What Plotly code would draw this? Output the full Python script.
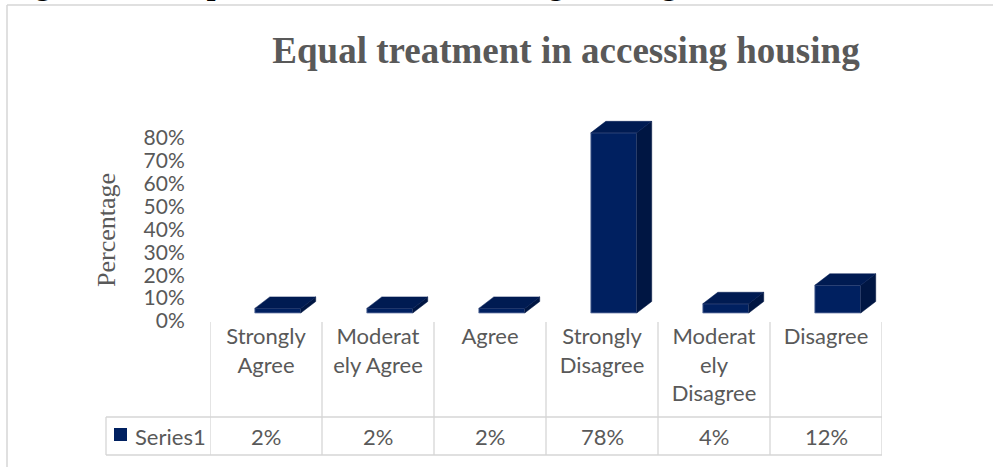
import plotly.graph_objects as go

# ---------------- data ----------------
categories = ["Strongly Agree", "Moderately Agree", "Agree",
              "Strongly Disagree", "Moderately Disagree", "Disagree"]
category_labels = ["Strongly<br>Agree", "Moderat<br>ely Agree", "Agree",
                   "Strongly<br>Disagree", "Moderat<br>ely<br>Disagree", "Disagree"]
series_name = "Series1"
values = [2, 2, 2, 78, 4, 12]          # percent
y_ticks = [0, 10, 20, 30, 40, 50, 60, 70, 80]
y_tick_labels = ["0%", "10%", "20%", "30%", "40%", "50%", "60%", "70%", "80%"]
title_text = "Equal treatment in accessing housing"
caption_text = "Figure 4.10: Equal treatment in accessing housing"
y_title = "Percentage"

# ---------------- layout geometry (pixels) ----------------
W, H = 993, 467
PL, PR = 210, 882      # plot area left/right
PT, PB = 110, 321      # plot area top/bottom


def px_x(p):
    return (p - PL) / (PR - PL)


def px_y(p):
    return (PB - p) / (PB - PT)


# visible axis: 0% at y=321, 80% at y=138
y1_scale = (321 - 138) / 80.0
y1_range = [0, (PB - PT) / y1_scale]
# bar axis (front face of 3D columns): 0 at y=313, 2.31 px per %
y2_scale = 2.31
y2_range = [-(PB - 313) / y2_scale, (313 - PT) / y2_scale]

unit_px = (PR - PL) / len(categories)
bar_offset = -0.1
bar_width = 0.41
dx = 15 / unit_px
dy = 11.5 / y2_scale

FRONT = "#002060"
TOP = "#001b52"
SIDE = "#001643"
GRAY = "#595959"
LINE = "#d6d6d6"

fig = go.Figure()

# empty trace so the percentage axis is registered
fig.add_trace(go.Scatter(x=[None], y=[None], yaxis="y", mode="lines",
                         hoverinfo="skip", showlegend=False))

# side and top faces of 3D columns
side_x, side_y, top_x, top_y = [], [], [], []
for i, v in enumerate(values):
    xl = i + bar_offset
    xr = xl + bar_width
    side_x += [xr, xr + dx, xr + dx, xr, xr, None]
    side_y += [0, dy, v + dy, v, 0, None]
    top_x += [xl, xl + dx, xr + dx, xr, xl, None]
    top_y += [v, v + dy, v + dy, v, v, None]

fig.add_trace(go.Scatter(x=side_x, y=side_y, yaxis="y2", mode="lines",
                         fill="toself", fillcolor=SIDE,
                         line=dict(color=SIDE, width=0.5),
                         hoverinfo="skip", showlegend=False))
fig.add_trace(go.Scatter(x=top_x, y=top_y, yaxis="y2", mode="lines",
                         fill="toself", fillcolor=TOP,
                         line=dict(color=TOP, width=0.5),
                         hoverinfo="skip", showlegend=False))
fig.add_trace(go.Bar(x=list(range(len(values))), y=values, yaxis="y2",
                     width=bar_width, offset=bar_offset,
                     marker=dict(color=FRONT, line=dict(color="#6f7fa8", width=0.8)),
                     name=series_name, showlegend=False,
                     hovertemplate="%{y}%<extra></extra>"))

shapes = []
# chart outer border (left and top)
shapes.append(dict(type="line", xref="paper", yref="paper",
                   x0=px_x(7), x1=px_x(W + 5), y0=px_y(5), y1=px_y(5),
                   line=dict(color=LINE, width=1.5)))
shapes.append(dict(type="line", xref="paper", yref="paper",
                   x0=px_x(7), x1=px_x(7), y0=px_y(5), y1=px_y(H + 5),
                   line=dict(color=LINE, width=1.5)))
# data table grid
for k in range(len(categories) + 1):
    shapes.append(dict(type="line", xref="x", yref="paper",
                       x0=k - 0.5, x1=k - 0.5, y0=px_y(322), y1=px_y(455),
                       line=dict(color=LINE, width=1.3)))
for yy in (417, 455):
    shapes.append(dict(type="line", xref="paper", yref="paper",
                       x0=px_x(106), x1=px_x(882), y0=px_y(yy), y1=px_y(yy),
                       line=dict(color=LINE, width=1.3)))
shapes.append(dict(type="line", xref="paper", yref="paper",
                   x0=px_x(106), x1=px_x(106), y0=px_y(417), y1=px_y(455),
                   line=dict(color=LINE, width=1.3)))
# legend key square
shapes.append(dict(type="rect", xref="paper", yref="paper",
                   x0=px_x(114), x1=px_x(127), y0=px_y(428), y1=px_y(441),
                   fillcolor=FRONT, line=dict(width=0)))

annotations = []
# values row
for i, v in enumerate(values):
    annotations.append(dict(x=i, xref="x", y=px_y(436), yref="paper",
                            text=f"{v}%", showarrow=False,
                            font=dict(family="Lato", size=22, color=GRAY),
                            xanchor="center", yanchor="middle"))
annotations.append(dict(x=px_x(133), xref="paper", y=px_y(436), yref="paper",
                        text=series_name, showarrow=False,
                        font=dict(family="Lato", size=22, color=GRAY),
                        xanchor="left", yanchor="middle"))
# y axis title
annotations.append(dict(x=px_x(106), xref="paper", y=px_y(230), yref="paper",
                        text=y_title, textangle=-90, showarrow=False,
                        font=dict(family="Liberation Serif", size=26, color=GRAY),
                        xanchor="center", yanchor="middle"))
# document caption, mostly cut off at top
annotations.append(dict(x=px_x(6), xref="paper", y=px_y(2.5), yref="paper",
                        text=f"<b>{caption_text}</b>", showarrow=False,
                        font=dict(family="Liberation Serif", size=31.5, color="black"),
                        xanchor="left", yanchor="bottom", borderpad=0))

fig.update_layout(
    width=W, height=H,
    margin=dict(l=PL, r=W - PR, t=PT, b=H - PB, pad=0),
    paper_bgcolor="white", plot_bgcolor="white",
    title=dict(text=f"<b>{title_text}</b>", x=566 / W, xanchor="center",
               y=1 - 49.7 / H, yanchor="middle", yref="container",
               font=dict(family="Liberation Serif", size=37, color=GRAY)),
    xaxis=dict(range=[-0.5, len(categories) - 0.5],
               tickvals=list(range(len(categories))), ticktext=category_labels,
               showgrid=False, zeroline=False, showline=False, ticks="",
               tickfont=dict(family="Lato", size=22, color=GRAY)),
    yaxis=dict(range=y1_range, tickvals=y_ticks, ticktext=y_tick_labels,
               showgrid=False, zeroline=False, showline=False,
               ticks="outside", ticklen=20, tickcolor="rgba(0,0,0,0)",
               showticklabels=True,
               tickfont=dict(family="Lato", size=21, color=GRAY)),
    yaxis2=dict(range=y2_range, overlaying="y", visible=False),
    shapes=shapes, annotations=annotations,
    showlegend=False,
)

fig.write_html("out.html", config={"displayModeBar": False},
               post_script="document.body.style.margin='0';")
